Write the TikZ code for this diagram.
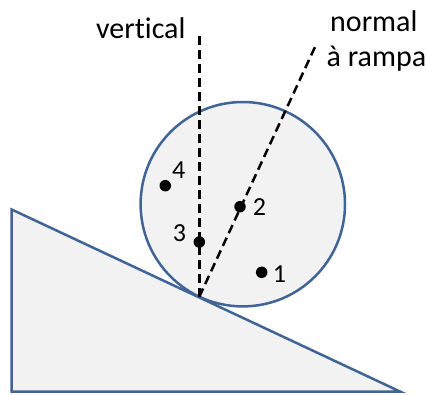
\documentclass[tikz,border=0pt]{standalone}
\usepackage{fontspec}
\setmainfont{Carlito}[Ligatures=NoCommon]
\definecolor{edgeblue}{RGB}{64,100,150}
\definecolor{lightfill}{RGB}{242,242,242}
\begin{document}
\begin{tikzpicture}[x=1pt,y=-1pt,
  outline/.style={draw=edgeblue,line width=2.5pt,fill=lightfill,line join=miter},
  guide/.style={draw=black,line width=2.5pt,dash pattern=on 9pt off 5pt},
  pt/.style={circle,fill=black,inner sep=0pt,minimum size=11.5pt},
  lbl/.style={inner sep=0pt,font=\fontsize{26}{31}\selectfont},
  txt/.style={inner sep=0pt,font=\fontsize{30}{36}\selectfont,align=left}]
\useasboundingbox (0,0) rectangle (427,394);
% ramp
\coordinate (t1) at (11.7,209.5);
\coordinate (t2) at (11.7,391.5);
\coordinate (t3) at (400,391.5);
\path[outline] (t1) -- (t2) -- (t3) -- cycle;
% ball
\node[outline,circle,minimum size=204.4pt,inner sep=0pt] (ball) at (242.8,204.2) {};
% contact point and guide ends
\coordinate (c) at (199.3,296.7);
\coordinate (vtop) at (199.3,33);
\coordinate (ntop) at (316.7,43.3);
\draw[guide] (c) -- (vtop);
\draw[guide] (c) -- (ntop);
% points
\node[pt] (p1) at (261.7,272.3) {};
\node[pt] (p2) at (240,206.7) {};
\node[pt] (p3) at (199.3,242) {};
\node[pt] (p4) at (165.3,185.7) {};
\node[lbl] (l1) at (279.5,274) {1};
\node[lbl] (l2) at (259.5,207) {2};
\node[lbl] (l3) at (179.5,233.3) {3};
\node[lbl] (l4) at (178.8,170.3) {4};
% texts
\node[txt,anchor=base west] (vt) at (96,38.5) {vertical};
\node[txt,anchor=base west] (nt) at (330,31) {normal};
\node[txt,anchor=base west] (nt2) at (326.5,66.5) {à rampa};
\end{tikzpicture}
\end{document}
